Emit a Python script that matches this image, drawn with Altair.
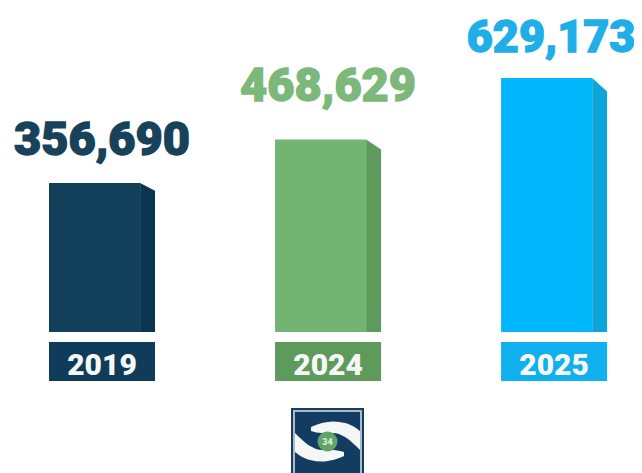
import altair as alt
import pandas as pd

# ---- values ----
years = ["2019", "2024", "2025"]
values = [356690, 468629, 629173]
front_colors = ["#123f59", "#72b572", "#02b6fb"]
side_colors = ["#0b3450", "#5e9a5c", "#0ea6da"]
box_colors = ["#0f3c5a", "#5f9a5d", "#10b0ee"]
text_colors = ["#17425a", "#7db87b", "#20aee9"]

W, H = 626, 465
slots = [0, 1, 2]
front_w = 0.403
side_w = 0.066
side_ratio = 0.944
label_dy = [-28, -38, -26]
label_dx = [0, 0, -3]
label_size = [47, 47, 45]

x_scale = alt.Scale(domain=[-0.1814, 2.588], range=[0, W], nice=False, zero=False)
y_scale = alt.Scale(type="pow", exponent=0.94, domain=[0, 629173], range=[324, 70], nice=False, clamp=False)
no_x = alt.X("x:Q", scale=x_scale, axis=None)
no_y = alt.Y("y:Q", scale=y_scale, axis=None)

layers = []
for i, year in enumerate(years):
    s, v = slots[i], values[i]
    front = pd.DataFrame({"x": [s], "x2": [s + front_w], "y": [v], "y2": [0]})
    layers.append(alt.Chart(front).mark_rect(color=front_colors[i]).encode(
        x=no_x, x2="x2:Q", y=no_y, y2="y2:Q"))
    side = pd.DataFrame({"x": [s + front_w, s + front_w + side_w],
                         "y": [v, v * side_ratio], "y2": [0, 0]})
    layers.append(alt.Chart(side).mark_area(color=side_colors[i], opacity=1).encode(
        x=no_x, y=no_y, y2="y2:Q"))
    box = pd.DataFrame({"x": [s], "x2": [s + front_w + side_w]})
    layers.append(alt.Chart(box).mark_rect(color=box_colors[i]).encode(
        x=no_x, x2="x2:Q", y=alt.value(334), y2=alt.value(373)))
    mid = s + (front_w + side_w) / 2
    layers.append(alt.Chart(pd.DataFrame({"x": [mid], "t": [year]})).mark_text(
        font="Roboto", fontWeight=900, fontSize=30, color="#f6f8f6", baseline="alphabetic", align="center"
    ).encode(x=no_x, y=alt.value(367), text="t:N"))
    label = pd.DataFrame({"x": [mid], "y": [v], "t": [f"{v:,}"]})
    layers.append(alt.Chart(label).mark_text(
        font="Roboto", fontWeight=900, fontSize=label_size[i], color=text_colors[i],
        stroke=text_colors[i], strokeWidth=1.3, baseline="alphabetic",
        align="center", dy=label_dy[i], dx=label_dx[i]
    ).encode(x=no_x, y=no_y, text="t:N"))

# ---- logo, in picture-like units ----
lx = alt.Scale(domain=[8, 634], range=[0, W], nice=False, zero=False)
ly = alt.Scale(domain=[8, 473], range=[0, H], nice=False, zero=False)
LX = alt.X("x:Q", scale=lx, axis=None)
LY = alt.Y("y:Q", scale=ly, axis=None)

def logo_rect(x0, x1, y0, y1, color):
    d = pd.DataFrame({"x": [x0], "x2": [x1], "y": [y0], "y2": [y1]})
    return alt.Chart(d).mark_rect(color=color).encode(x=LX, x2="x2:Q", y=LY, y2="y2:Q")

layers.append(logo_rect(291, 364, 408, 473, "#1a3d5e"))
layers.append(logo_rect(293, 362, 410, 473, "#a9bccb"))
layers.append(logo_rect(295, 360, 412, 473, "#123c62"))

hand_x = [311, 322, 333, 345, 356, 360]
hand_top = [427, 423, 421.5, 423, 428, 431]
hand_bot = [431, 433, 433, 437, 446, 450]
cx, cy = 327.5, 441.5
upper = pd.DataFrame({"x": hand_x, "y": hand_top, "y2": hand_bot})
lower = pd.DataFrame({"x": [2 * cx - a for a in hand_x],
                      "y": [2 * cy - a for a in hand_top],
                      "y2": [2 * cy - a for a in hand_bot]})
for d in (upper, lower):
    layers.append(alt.Chart(d).mark_area(color="#f4f7f6", opacity=1, interpolate="monotone").encode(
        x=LX, y=LY, y2="y2:Q"))
centre = pd.DataFrame({"x": [cx], "y": [cy], "t": ["34"]})
layers.append(alt.Chart(centre).mark_point(filled=True, opacity=1, size=400, color="#5fa56b").encode(x=LX, y=LY))
layers.append(alt.Chart(centre).mark_text(font="Roboto", fontWeight=900, fontSize=9, color="#dbeed6").encode(
    x=LX, y=LY, text="t:N"))

chart = alt.layer(*layers).resolve_scale(x="independent", y="independent").properties(
    width=W, height=H, padding=0, background="#ffffff",
    autosize=alt.AutoSizeParams(type="none")
).configure_view(stroke=None)

chart.save("out.html", embed_options={"renderer": "svg", "actions": False})
